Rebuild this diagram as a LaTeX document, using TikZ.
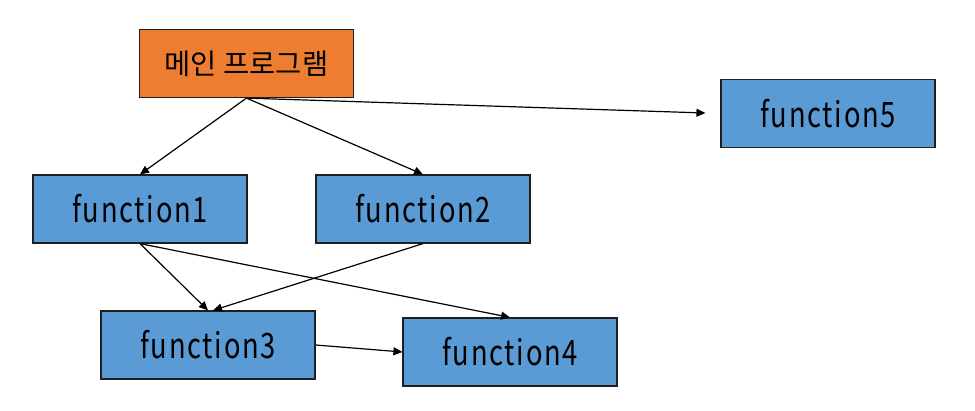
\documentclass[tikz,border=0pt]{standalone}
\usepackage{fontspec}
\setmainfont{Noto Sans CJK KR}
\newfontfamily\latinfont[FakeStretch=0.78,LetterSpace=5]{Noto Sans CJK KR}
\usetikzlibrary{arrows.meta}
\definecolor{boxorange}{HTML}{ED7D31}
\definecolor{boxblue}{HTML}{5B9BD5}
\definecolor{boxline}{HTML}{1F1F1F}
\begin{document}
\begin{tikzpicture}[x=1pt,y=-1pt,
  fbox/.style={draw=boxline,line width=1.2pt,fill=boxblue,minimum width=214pt,minimum height=68pt,inner sep=0pt,font=\latinfont\fontsize{35}{40}\selectfont},
  mbox/.style={fbox,fill=boxorange,font=\fontsize{28.5}{32}\selectfont},
  conn/.style={line width=1.2pt,-{Triangle[length=9pt,width=8pt]}}]
\useasboundingbox (0,0) rectangle (975,411);
\node[mbox] (m) at (246.5,63.5) {메인 프로그램};
\node[fbox] (f5) at (828,113.5) {function5};
\node[fbox] (f1) at (140,209) {function1};
\node[fbox] (f2) at (423,209) {function2};
\node[fbox] (f3) at (208,345) {function3};
\node[fbox] (f4) at (510,352) {function4};
\draw[conn] (m.south) -- (f1.north);
\draw[conn] (m.south) -- (f2.north);
\draw[conn,shorten >=15pt] (m.south) -- (f5.west);
\draw[conn] (f1.south) -- (f3.north);
\draw[conn] (f2.south) -- ([xshift=5pt]f3.north);
\draw[conn] (f1.south) -- (f4.north);
\draw[conn] (f3.east) -- (f4.west);
\end{tikzpicture}
\end{document}
